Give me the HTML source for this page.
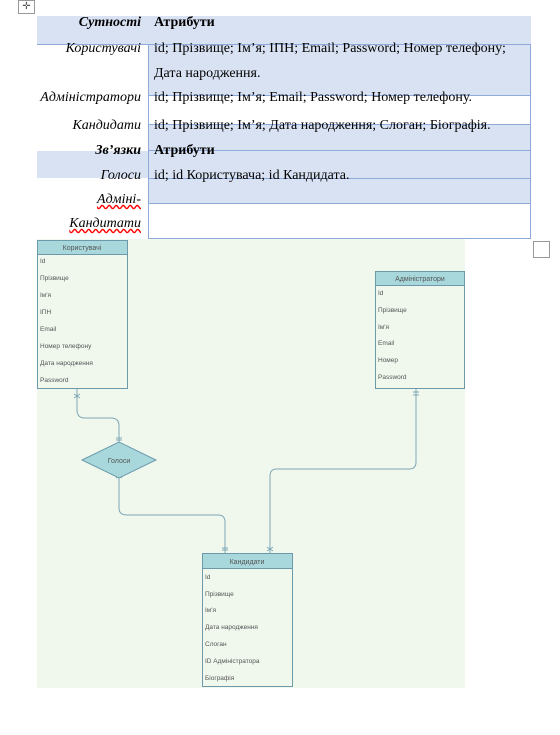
<!DOCTYPE html>
<html><head><meta charset="utf-8"><style>
body{margin:0;width:560px;height:735px;background:#fff;position:relative;overflow:hidden;font-family:"Liberation Serif",serif;}
.a{position:absolute}
.t{font-size:14px;color:#000;white-space:nowrap}
.l{font-style:italic;text-align:right;width:106px;left:35px}
.r{left:154px}
</style></head><body>
<div class="a" style="left:18px;top:0;width:15px;height:12px;border:1px solid #999;font-size:10px;line-height:11px;text-align:center;color:#555">✛</div>
<div class="a" style="left:37px;top:16px;width:494px;height:28px;background:#d9e2f3"></div>
<div class="a" style="left:148px;top:44px;width:383px;height:52px;background:#d9e2f3;border:1px solid #8eaadb;box-sizing:border-box"></div>
<div class="a" style="left:148px;top:96px;width:383px;height:29px;border:1px solid #8eaadb;border-top:none;box-sizing:border-box"></div>
<div class="a" style="left:148px;top:125px;width:383px;height:26px;background:#d9e2f3;border:1px solid #8eaadb;border-top:none;box-sizing:border-box"></div>
<div class="a" style="left:37px;top:151px;width:494px;height:27px;background:#d9e2f3"></div>
<div class="a" style="left:148px;top:151px;width:383px;height:27px;border:1px solid #8eaadb;border-top:none;border-bottom:none;box-sizing:border-box"></div>
<div class="a" style="left:148px;top:178px;width:383px;height:26px;background:#d9e2f3;border:1px solid #8eaadb;box-sizing:border-box"></div>
<div class="a" style="left:148px;top:204px;width:383px;height:35px;border:1px solid #8eaadb;border-top:none;box-sizing:border-box"></div>
<div class="a" style="left:37px;top:44px;width:111px;height:1px;background:#8eaadb"></div>
<div class="a t l" style="top:15px;font-weight:bold">Сутності</div>
<div class="a t r" style="top:15px;font-weight:bold">Атрибути</div>
<div class="a t l" style="top:41px">Користувачі</div>
<div class="a t r" style="top:41px">id; Прізвище; Ім’я; ІПН; Email; Password; Номер телефону;</div>
<div class="a t r" style="top:66px">Дата народження.</div>
<div class="a t l" style="top:90px">Адміністратори</div>
<div class="a t r" style="top:90px">id; Прізвище; Ім’я; Email; Password; Номер телефону.</div>
<div class="a t l" style="top:118px">Кандидати</div>
<div class="a t r" style="top:118px">id; Прізвище; Ім’я; Дата народження; Слоган; Біографія.</div>
<div class="a t l" style="top:143px;font-weight:bold">Зв’язки</div>
<div class="a t r" style="top:143px;font-weight:bold">Атрибути</div>
<div class="a t l" style="top:168px">Голоси</div>
<div class="a t r" style="top:168px">id; id Користувача; id Кандидата.</div>
<div class="a t l" style="top:192px;text-decoration:underline wavy red">Адміні-</div>
<div class="a t l" style="top:216px;text-decoration:underline wavy red">Кандитати</div>
<div class="a" style="left:533px;top:241px;width:15px;height:15px;border:1px solid #999"></div>
<svg class="a" style="left:0;top:0" width="560" height="735" font-family="Liberation Sans, sans-serif" font-size="6.5" fill="#555">
<rect x="37" y="239" width="428" height="449" fill="#f0f8ee"/>
<g fill="none" stroke="#7fa7b5" stroke-width="1">
<path d="M77 388 V410 Q77 418 85 418 H111 Q119 418 119 426 V442"/>
<path d="M119 478 V508 Q119 515 127 515 H218 Q225 515 225 522 V553"/>
<path d="M416 388 V462 Q416 469 409 469 H277 Q270 469 270 476 V553"/>
<path d="M74 394 L80 398 M80 394 L74 398 M116 438 H122 M116 440 H122 M116 474 L122 478 M122 474 L116 478 M413 392 H419 M413 395 H419 M222 548 H228 M222 550 H228 M267 547 L273 551 M273 547 L267 551"/>
</g>
<g stroke="#6c9aab" stroke-width="1">
<rect x="37.5" y="240.5" width="90" height="148" fill="#f0f8ee"/>
<rect x="37.5" y="240.5" width="90" height="14" fill="#a8d8dc"/>
<rect x="375.5" y="271.5" width="89" height="117" fill="#f0f8ee"/>
<rect x="375.5" y="271.5" width="89" height="14" fill="#a8d8dc"/>
<rect x="202.5" y="553.5" width="90" height="133" fill="#f0f8ee"/>
<rect x="202.5" y="553.5" width="90" height="15" fill="#a8d8dc"/>
<path d="M82 460 L119 442 L156 460 L119 478 Z" fill="#a8d8dc"/>
</g>
<g text-anchor="middle" font-size="7">
<text x="82" y="250">Користувачі</text>
<text x="420" y="281">Адміністратори</text>
<text x="247" y="564">Кандидати</text>
<text x="119" y="463">Голоси</text>
</g>
<g>
<text x="40" y="263">Id</text><text x="40" y="280">Прізвище</text><text x="40" y="297">Ім'я</text><text x="40" y="314">ІПН</text><text x="40" y="331">Email</text><text x="40" y="348">Номер телефону</text><text x="40" y="365">Дата народження</text><text x="40" y="382">Password</text>
<text x="378" y="295">Id</text><text x="378" y="312">Прізвище</text><text x="378" y="329">Ім'я</text><text x="378" y="345">Email</text><text x="378" y="362">Номер</text><text x="378" y="379">Password</text>
<text x="205" y="579">Id</text><text x="205" y="596">Прізвище</text><text x="205" y="612">Ім'я</text><text x="205" y="629">Дата народження</text><text x="205" y="646">Слоган</text><text x="205" y="663">ID Адміністратора</text><text x="205" y="680">Біографія</text>
</g>
</svg>
</body></html>
